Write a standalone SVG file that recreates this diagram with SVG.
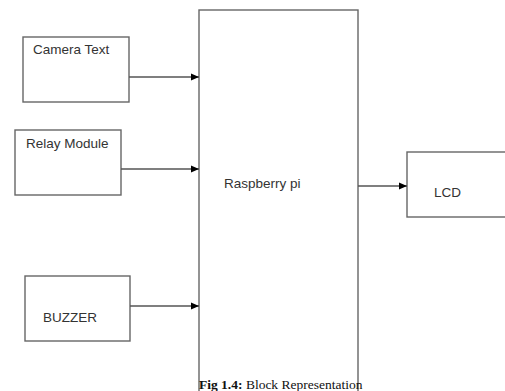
<svg xmlns="http://www.w3.org/2000/svg" width="505" height="391" viewBox="0 0 505 391">
<style>
.box{fill:#fff;stroke:#666;stroke-width:1.4}
.lbl{font-family:"Liberation Sans",Arial,sans-serif;font-size:13.5px;fill:#333}
.conn line{stroke:#555;stroke-width:1.3}
</style>
<defs>
<marker id="ah" markerWidth="8" markerHeight="8" refX="8" refY="4" orient="auto" markerUnits="userSpaceOnUse">
<path d="M0,0.5 L8,4 L0,7.5 Z" fill="#000"/>
</marker>
</defs>
<rect width="505" height="391" fill="#fff"/>
<g id="raspberry">
<rect class="box" x="199" y="10" width="159" height="390"/>
<text class="lbl" x="224" y="188">Raspberry pi</text>
</g>
<g id="camera">
<rect class="box" x="23" y="37" width="106" height="65"/>
<text class="lbl" x="33" y="54">Camera Text</text>
</g>
<g id="relay">
<rect class="box" x="15" y="130" width="106" height="65"/>
<text class="lbl" x="26" y="148">Relay Module</text>
</g>
<g id="buzzer">
<rect class="box" x="25" y="276" width="105" height="65"/>
<text class="lbl" x="43" y="322">BUZZER</text>
</g>
<g id="lcd">
<rect class="box" x="407" y="152" width="100" height="65"/>
<text class="lbl" x="434" y="197">LCD</text>
</g>
<g class="conn" id="connectors">
<line x1="129" y1="77" x2="199" y2="77" marker-end="url(#ah)"/>
<line x1="121" y1="169" x2="199" y2="169" marker-end="url(#ah)"/>
<line x1="130" y1="306" x2="199" y2="306" marker-end="url(#ah)"/>
<line x1="358" y1="186" x2="407" y2="186" marker-end="url(#ah)"/>
</g>
<text x="199" y="389" font-family="'Liberation Serif','Times New Roman',serif" font-size="13.5" fill="#111"><tspan font-weight="bold">Fig 1.4:</tspan> Block Representation</text>
</svg>
